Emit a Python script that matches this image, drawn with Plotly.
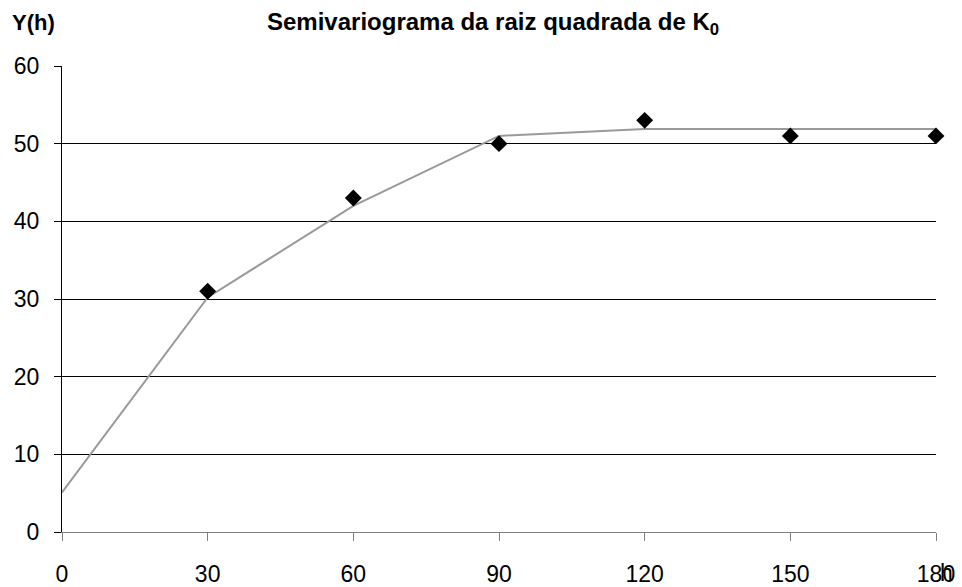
import plotly.graph_objects as go

lags = [30, 60, 90, 120, 150, 180]
semivar = [31, 43, 50, 53, 51, 51]
model_x = [0, 30, 60, 90, 120, 150, 180]
model_y = [5.1, 30.2, 42.0, 51.0, 51.9, 51.9, 51.9]
x_ticks = [0, 30, 60, 90, 120, 150, 180]
y_ticks = [0, 10, 20, 30, 40, 50, 60]

FONT = "Liberation Sans, Arial, sans-serif"

W, H = 962, 587
L, R, T, B = 62, 26, 66, 55
PW, PH = W - L - R, H - T - B


def px(x):
    return (x - L) / PW


def py(y):
    return (H - B - y) / PH


fig = go.Figure()
fig.add_trace(go.Scatter(x=model_x, y=model_y, mode="lines",
                         line=dict(color="#999999", width=2), showlegend=False))
fig.add_trace(go.Scatter(x=lags, y=semivar, mode="markers",
                         marker=dict(symbol="diamond", color="black", size=13),
                         showlegend=False, cliponaxis=False))

fig.update_layout(
    width=W, height=H,
    margin=dict(l=L, r=R, t=T, b=B, autoexpand=False),
    paper_bgcolor="white", plot_bgcolor="white",
    font=dict(family=FONT, size=23, color="black"),
    xaxis=dict(range=[0, 180], tickvals=x_ticks, ticks="outside", ticklen=8,
               tickcolor="#808080", showgrid=False, zeroline=False,
               showline=True, linecolor="#808080", linewidth=1, automargin=False,
               tickfont=dict(size=23), ticklabelstandoff=13),
    yaxis=dict(range=[0, 60], tickvals=y_ticks, ticks="outside", ticklen=7,
               tickcolor="black", showgrid=True, gridcolor="black", gridwidth=1,
               zeroline=False, showline=True, linecolor="black", linewidth=1,
               automargin=False, tickfont=dict(size=23), ticklabelstandoff=10),
)

fig.add_annotation(text="<b>Semivariograma da raiz quadrada de K<sub>0</sub></b>",
                   x=px(493), y=py(24), xref="paper", yref="paper", showarrow=False,
                   font=dict(family=FONT, size=24), xanchor="center", yanchor="middle")
fig.add_annotation(text="<b>Y(h)</b>", x=px(10), y=py(22), xref="paper", yref="paper",
                   showarrow=False, font=dict(family=FONT, size=22),
                   xanchor="left", yanchor="middle")
fig.add_annotation(text="h", x=px(947), y=py(573), xref="paper", yref="paper",
                   showarrow=False, font=dict(family=FONT, size=23),
                   xanchor="center", yanchor="middle")

fig.write_html("out.html")
